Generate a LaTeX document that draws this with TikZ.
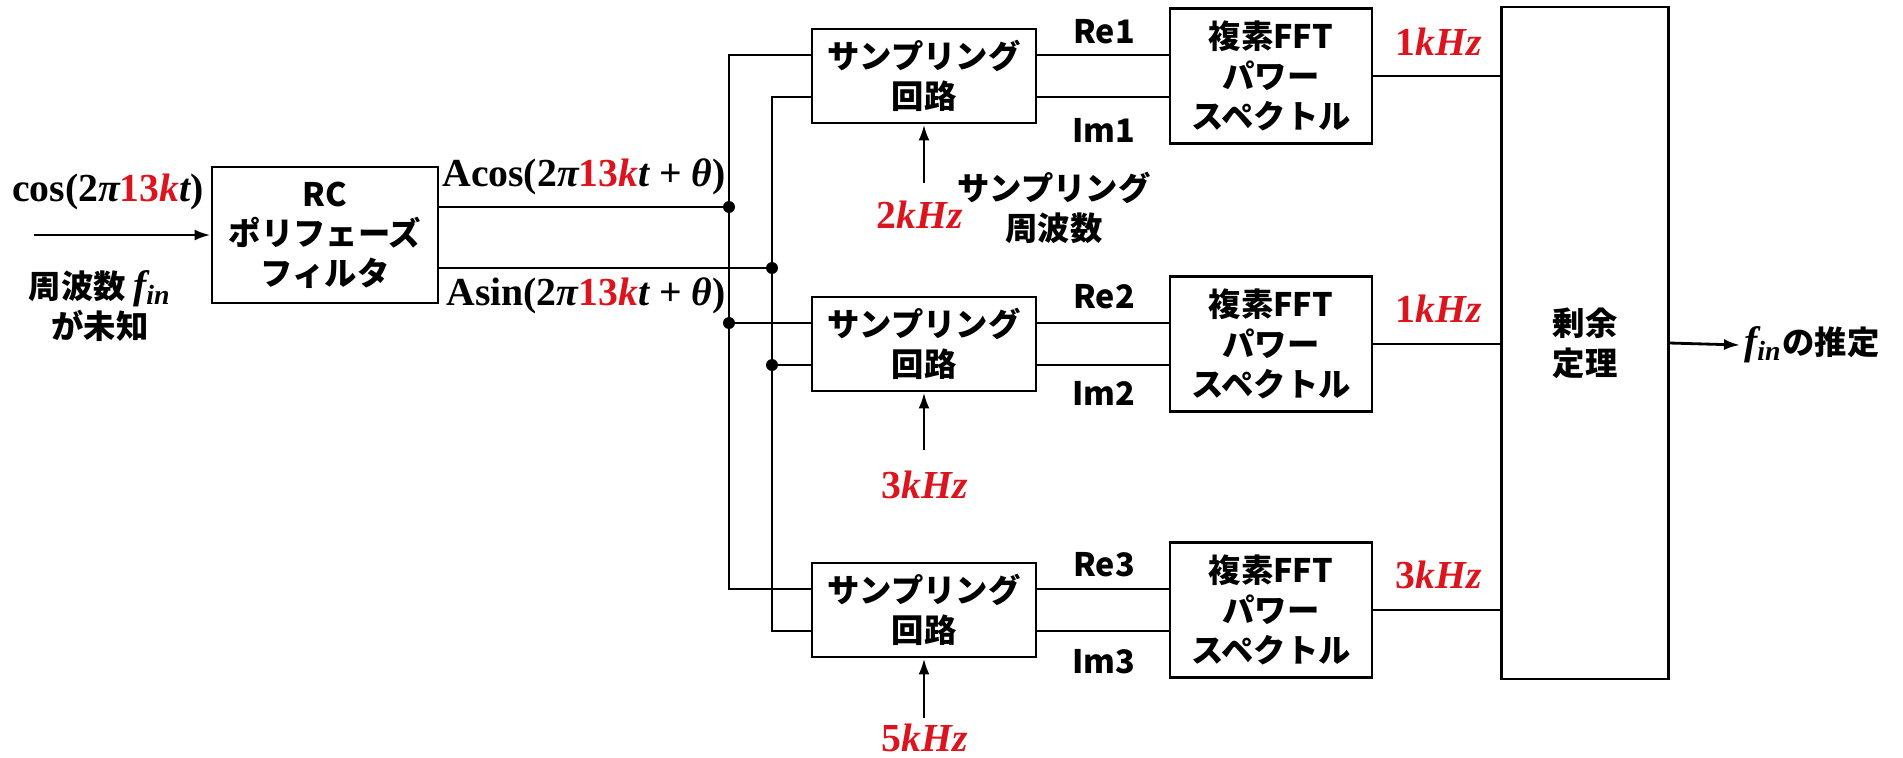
\documentclass[tikz,border=0pt]{standalone}
\usepackage{fontspec}
\usepackage{xcolor}
\usepackage{tikz}
\usetikzlibrary{arrows.meta, positioning}
\newfontfamily\jpfont{Noto Sans CJK JP}
\newfontfamily\serifmath{Liberation Serif}
\definecolor{kred}{RGB}{220, 20, 30}
\newcommand{\mth}[1]{{\fontsize{11.3}{13}\selectfont\serifmath\bfseries #1}}
\newcommand{\vr}[1]{{\itshape #1}}

\begin{document}
\begin{tikzpicture}[
		x=0.1mm, y=-0.1mm,
		every node/.style={font=\fontsize{9.2}{11.3}\selectfont\jpfont\bfseries, inner sep=1pt},
		blk/.style={rectangle, draw, line width=0.8pt, align=center},
		sampbox/.style={blk, minimum width=2.24cm, minimum height=0.94cm},
		fftbox/.style={blk, minimum width=2.02cm, minimum height=1.35cm},
		wire/.style={line width=0.8pt},
		sig/.style={wire, -{Latex[length=1.6mm, width=1.1mm]}},
		dot/.style={circle, fill, inner sep=0pt, minimum size=3.4pt}
		]
		\useasboundingbox (0,0) rectangle (1903,757);
		
		% Input and filter
		\node[blk, minimum width=2.26cm, minimum height=1.36cm] (rc) at (325,235) {RC\\ポリフェーズ\\フィルタ};
		\node (cosin) at (108,192) {\mth{cos(2\vr{π}\textcolor{kred}{13\vr{k}}\vr{t})}};
		\node[align=center] (fin) at (100,306) {周波数 \mth{\vr{f}\textsubscript{\vr{in}}}\\が未知};
		\coordinate (src) at (34,235);
		\draw[sig] (src) -- (rc.west);
		
		% Sampling circuits
		\node[sampbox] (s1) at (924,76) {サンプリング\\回路};
		\node[sampbox] (s2) at (924,344) {サンプリング\\回路};
		\node[sampbox] (s3) at (924,610) {サンプリング\\回路};
		
		% Sampling frequencies
		\coordinate (c1) at (924,183);
		\coordinate (c2) at (924,450);
		\coordinate (c3) at (924,718);
		\draw[sig] (c1) -- (s1.south);
		\draw[sig] (c2) -- (s2.south);
		\draw[sig] (c3) -- (s3.south);
		\node (k1) at (920,215) {\mth{\textcolor{kred}{2\vr{kHz}}}};
		\node (k2) at (925,485) {\mth{\textcolor{kred}{3\vr{kHz}}}};
		\node (k3) at (925,738) {\mth{\textcolor{kred}{5\vr{kHz}}}};
		\node[align=center] (fsamp) at (1054,208) {サンプリング\\周波数};
		
		% FFT blocks
		\node[fftbox] (f1) at (1271,76) {複素FFT\\パワー\\スペクトル};
		\node[fftbox] (f2) at (1271,344) {複素FFT\\パワー\\スペクトル};
		\node[fftbox] (f3) at (1271,610) {複素FFT\\パワー\\スペクトル};
		
		% Remainder theorem
		\node[blk, minimum width=1.67cm, minimum height=6.72cm] (crt) at (1585,343) {剰余\\定理};
		\node[anchor=west] (est) at (1740,345) {\mth{\vr{f}\textsubscript{\vr{in}}}の推定};
		\draw[sig] (crt.east) -- (est.west);
		
		% Filter outputs and buses
		\node (acos) at (584,177) {\mth{Acos(2\vr{π}\textcolor{kred}{13\vr{k}}\vr{t} + \vr{θ})}};
		\node (asin) at (586,296) {\mth{Asin(2\vr{π}\textcolor{kred}{13\vr{k}}\vr{t} + \vr{θ})}};
		\coordinate (cbus) at (729,300);
		\coordinate (sbus) at (772,300);
		\draw[wire] ([yshift=2.1mm]s1.west) -| (cbus) |- ([yshift=2.1mm]s3.west);
		\draw[wire] ([yshift=-2.1mm]s1.west) -| (sbus) |- ([yshift=-2.1mm]s3.west);
		\node[dot] (jc) at (729,207) {};
		\node[dot] (js) at (772,268) {};
		\draw[wire] (jc -| rc.east) -- (jc.center);
		\draw[wire] (js -| rc.east) -- (js.center);
		\node[dot] (j2c) at ([yshift=2.1mm]s2.west -| cbus) {};
		\node[dot] (j2s) at ([yshift=-2.1mm]s2.west -| sbus) {};
		\draw[wire] (j2c.center) -- ([yshift=2.1mm]s2.west);
		\draw[wire] (j2s.center) -- ([yshift=-2.1mm]s2.west);
		
		% Re / Im
		\draw[wire] ([yshift=2.1mm]s1.east) -- ([yshift=2.1mm]f1.west);
		\draw[wire] ([yshift=-2.1mm]s1.east) -- ([yshift=-2.1mm]f1.west);
		\draw[wire] ([yshift=2.1mm]s2.east) -- ([yshift=2.1mm]f2.west);
		\draw[wire] ([yshift=-2.1mm]s2.east) -- ([yshift=-2.1mm]f2.west);
		\draw[wire] ([yshift=2.1mm]s3.east) -- ([yshift=2.1mm]f3.west);
		\draw[wire] ([yshift=-2.1mm]s3.east) -- ([yshift=-2.1mm]f3.west);
		\node (re1) at (1104,32) {Re1};
		\node (im1) at (1104,130) {Im1};
		\node (re2) at (1104,297) {Re2};
		\node (im2) at (1104,393) {Im2};
		\node (re3) at (1104,565) {Re3};
		\node (im3) at (1104,662) {Im3};
		
		% Spectrum peaks
		\draw[wire] (f1.east) -- (f1.east -| crt.west);
		\draw[wire] (f2.east) -- (f2.east -| crt.west);
		\draw[wire] (f3.east) -- (f3.east -| crt.west);
		\node (o1) at (1439,42) {\mth{\textcolor{kred}{1\vr{kHz}}}};
		\node (o2) at (1439,309) {\mth{\textcolor{kred}{1\vr{kHz}}}};
		\node (o3) at (1439,575) {\mth{\textcolor{kred}{3\vr{kHz}}}};
	\end{tikzpicture}
\end{document}
